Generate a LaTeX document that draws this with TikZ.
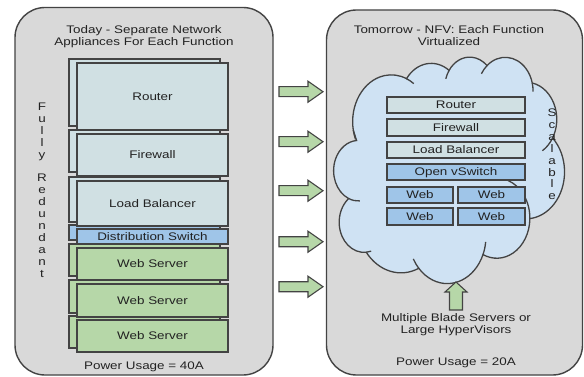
\documentclass[tikz,border=0pt]{standalone}
\usepackage{fontspec}
\setmainfont{Liberation Sans}[FakeStretch=1.22]
\definecolor{panelgray}{HTML}{D9D9D9}
\definecolor{edgegray}{HTML}{434343}
\definecolor{paleteal}{HTML}{D0E0E3}
\definecolor{softblue}{HTML}{9FC5E8}
\definecolor{softgreen}{HTML}{B6D7A8}
\definecolor{cloudblue}{HTML}{CFE2F3}
\definecolor{inkgray}{HTML}{222222}
\newcommand\backbox[4]{\draw[backline, fill=#4] (#1-8,#2-4) rectangle ++(151,#3);}
\begin{document}
\begin{tikzpicture}[x=1pt,y=-1pt,
  every node/.style={font=\fontsize{11}{12}\selectfont, text=inkgray},
  panel/.style={draw=edgegray, fill=panelgray, line width=1.4pt, rounded corners=30pt},
  backline/.style={draw=edgegray, line width=1.2pt},
  box/.style={draw=edgegray, line width=1.2pt, inner sep=0pt, outer sep=0pt,
    text height=7.9pt, text depth=0pt, anchor=north west},
  lbox/.style={box, minimum width=151},
  rbox/.style={box, minimum width=138, minimum height=16},
  wbox/.style={box, minimum height=16},
  vtext/.style={align=center, font=\fontsize{11}{11.9}\selectfont},
  label/.style={text height=7.9pt, text depth=0pt, inner sep=0pt},
  cloudline/.style={draw=edgegray, line width=1.3pt},
  blockarrow/.style={draw=edgegray, fill=softgreen, line width=1.1pt, line join=miter},
  rarrow/.pic={\draw[blockarrow] (0,-5) -- (29,-5) -- (29,-10.5) -- (44,0) -- (29,10.5) -- (29,5) -- (0,5) -- cycle;},
  uarrow/.pic={\draw[blockarrow] (-6.5,0) -- (-6.5,-18) -- (-11,-18) -- (0,-28) -- (11,-18) -- (6.5,-18) -- (6.5,0) -- cycle;}
]
\fill[white] (0,0) rectangle (584,377);
\useasboundingbox (0,0) rectangle (584,377);

% panels
\draw[panel] (15,7.5) rectangle (273,375);
\draw[panel] (326.5,10) rectangle (582.5,375);

% left panel
\node[align=center] (ltitle) at (144,36.6) {Today - Separate Network\\Appliances For Each Function};
\node[vtext] (fully) at (42,190) {F\\u\\l\\l\\y\\\mbox{}\\R\\e\\d\\u\\n\\d\\a\\n\\t};

\backbox{77}{63}{67}{paleteal}
\backbox{77}{134}{42}{paleteal}
\backbox{77}{181}{45}{paleteal}
\backbox{77}{229}{15}{softblue}
\backbox{77}{248}{32}{softgreen}
\backbox{77}{284}{33}{softgreen}
\backbox{77}{320}{32}{softgreen}
\node[lbox, fill=paleteal, minimum height=67] (lrouter) at (77,63) {Router};
\node[lbox, fill=paleteal, minimum height=42] (lfirewall) at (77,134) {Firewall};
\node[lbox, fill=paleteal, minimum height=45] (llb) at (77,181) {Load Balancer};
\node[lbox, fill=softblue, minimum height=15] (lswitch) at (77,229) {Distribution Switch};
\node[lbox, fill=softgreen, minimum height=32] (lweba) at (77,248) {Web Server};
\node[lbox, fill=softgreen, minimum height=33] (lwebb) at (77,284) {Web Server};
\node[lbox, fill=softgreen, minimum height=32] (lwebc) at (77,320) {Web Server};
\node[label] (lpower) at (144,365.3) {Power Usage = 40A};

% arrows between panels
\pic at (279,91.7) {rarrow};
\pic at (279,141.7) {rarrow};
\pic at (279,190.7) {rarrow};
\pic at (279,241.7) {rarrow};
\pic at (279,286.7) {rarrow};

% right panel
\node[align=center] (rtitle) at (449,35.5) {Tomorrow - NFV: Each Function\\Virtualized};

\begin{scope}[shift={(331,57)}, x=1pt, y=1pt, xscale=0.5718, yscale=-0.5093]
\draw[cloudline, fill=cloudblue]
  (39.00,143.70) coordinate (j11)
  arc[start angle=-190.49, delta angle=123.78, x radius=67.53pt, y radius=91.90pt] coordinate (j1)
  arc[start angle=-144.10, delta angle=89.95, x radius=53.33pt, y radius=72.67pt] coordinate (j2)
  arc[start angle=-145.81, delta angle=99.72, x radius=43.65pt, y radius=59.45pt] coordinate (j3)
  arc[start angle=-130.99, delta angle=117.24, x radius=48.57pt, y radius=65.95pt] coordinate (j4)
  arc[start angle=-78.71, delta angle=109.03, x radius=53.33pt, y radius=72.73pt] coordinate (j5)
  arc[start angle=-46.27, delta angle=130.27, x radius=67.75pt, y radius=92.20pt] coordinate (j6)
  arc[start angle=0.625, delta angle=114.03, x radius=57.85pt, y radius=78.67pt] coordinate (j7)
  arc[start angle=22.45, delta angle=115.17, x radius=67.52pt, y radius=92.15pt] coordinate (j8)
  arc[start angle=66.24, delta angle=75.71, x radius=77.20pt, y radius=105.43pt] coordinate (j9)
  arc[start angle=-274.94, delta angle=146.74, x radius=43.60pt, y radius=59.18pt] coordinate (j10)
  arc[start angle=-246.83, delta angle=152.52, x radius=43.45pt, y radius=59.45pt]
  -- cycle;
\draw[cloudline]
  (j1) arc[start angle=-66.71, delta angle=12.32, x radius=67.53pt, y radius=91.90pt]
  (j2) arc[start angle=-145.81, delta angle=-17.69, x radius=43.65pt, y radius=59.45pt]
  (j3) arc[start angle=-130.99, delta angle=-18.20, x radius=48.57pt, y radius=65.95pt]
  (j4) arc[start angle=-13.75, delta angle=14.86, x radius=48.57pt, y radius=65.95pt]
  (j5) arc[start angle=30.32, delta angle=27.75, x radius=53.33pt, y radius=72.73pt]
  (j6) arc[start angle=0.625, delta angle=-70.92, x radius=57.85pt, y radius=78.67pt]
  (j7) arc[start angle=22.45, delta angle=-16.00, x radius=67.52pt, y radius=92.15pt]
  (j8) arc[start angle=137.62, delta angle=14.08, x radius=67.52pt, y radius=92.15pt]
  (j9) arc[start angle=-274.94, delta angle=-11.45, x radius=43.60pt, y radius=59.18pt]
  (j10) arc[start angle=-246.83, delta angle=-26.43, x radius=43.45pt, y radius=59.45pt]
  (j11) arc[start angle=-190.49, delta angle=-11.86, x radius=67.53pt, y radius=91.90pt];
\end{scope}

\node[rbox, fill=paleteal] (rrouter) at (387,97) {Router};
\node[rbox, fill=paleteal, minimum height=17] (rfirewall) at (387,119) {Firewall};
\node[rbox, fill=paleteal] (rlb) at (387,142) {Load Balancer};
\node[rbox, fill=softblue] (rovs) at (387,164) {Open vSwitch};
\node[wbox, fill=softblue, minimum width=66] (rweba) at (387,187) {Web};
\node[wbox, fill=softblue, minimum width=67] (rwebb) at (458,187) {Web};
\node[wbox, fill=softblue, minimum width=66, minimum height=17] (rwebc) at (387,208) {Web};
\node[wbox, fill=softblue, minimum width=67, minimum height=17] (rwebd) at (458,208) {Web};
\node[vtext] (scalable) at (552,154.4) {S\\c\\a\\l\\a\\b\\l\\e};

\pic at (456,310) {uarrow};
\node[align=center] (blades) at (456,324.5) {Multiple Blade Servers or\\Large HyperVisors};
\node[label] (rpower) at (456,362) {Power Usage = 20A};
\end{tikzpicture}
\end{document}
